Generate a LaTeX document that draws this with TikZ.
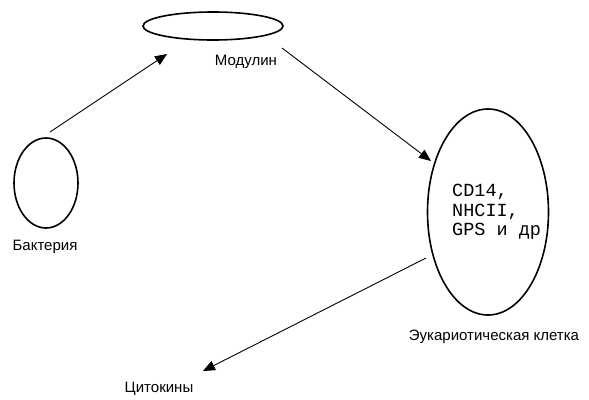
\documentclass[tikz,border=0pt]{standalone}
\usepackage{fontspec}
\setmainfont{Liberation Sans}
\setmonofont{Liberation Mono}
\usepackage{tikz}
\usetikzlibrary{positioning,arrows.meta,shapes.geometric}
\tikzset{
  cell/.style={ellipse,draw=black,line width=1.6pt,inner sep=0pt},
  lbl/.style={font=\fontsize{15}{17}\selectfont,inner sep=0pt},
  ar/.style={-{Triangle[length=12pt,width=10pt]},line width=0.9pt},
}

\begin{document}
\begin{tikzpicture}[x=1pt,y=-1pt]
  \useasboundingbox (0,0) rectangle (589,399);
  \node[cell,minimum width=140pt,minimum height=28pt] (mod) at (213,26) {};
  \node[cell,minimum width=64pt,minimum height=90pt] (bact) at (46,183) {};
  \node[cell,minimum width=121pt,minimum height=206pt] (euk) at (488,212) {};
  \node[font=\ttfamily\fontsize{18.5}{19.5}\selectfont,align=left,anchor=west,inner sep=0pt] (rec) at (452,212) {CD14,\\NHCII,\\GPS и др};
  \node[lbl] (lmod) at (246,62) {Модулин};
  \node[lbl] (lbact) at (45,247) {Бактерия};
  \node[lbl] (leuk) at (494,337) {Эукариотическая клетка};
  \node[lbl] (cyt) at (159,389) {Цитокины};
  \coordinate (a1) at (50,132);
  \coordinate (b1) at (167,54);
  \coordinate (a2) at (282,48);
  \coordinate (b2) at (431,161);
  \coordinate (a3) at (426,258);
  \coordinate (b3) at (203,371);
  \draw[ar] (a1) -- (b1);
  \draw[ar] (a2) -- (b2);
  \draw[ar] (a3) -- (b3);
\end{tikzpicture}
\end{document}
